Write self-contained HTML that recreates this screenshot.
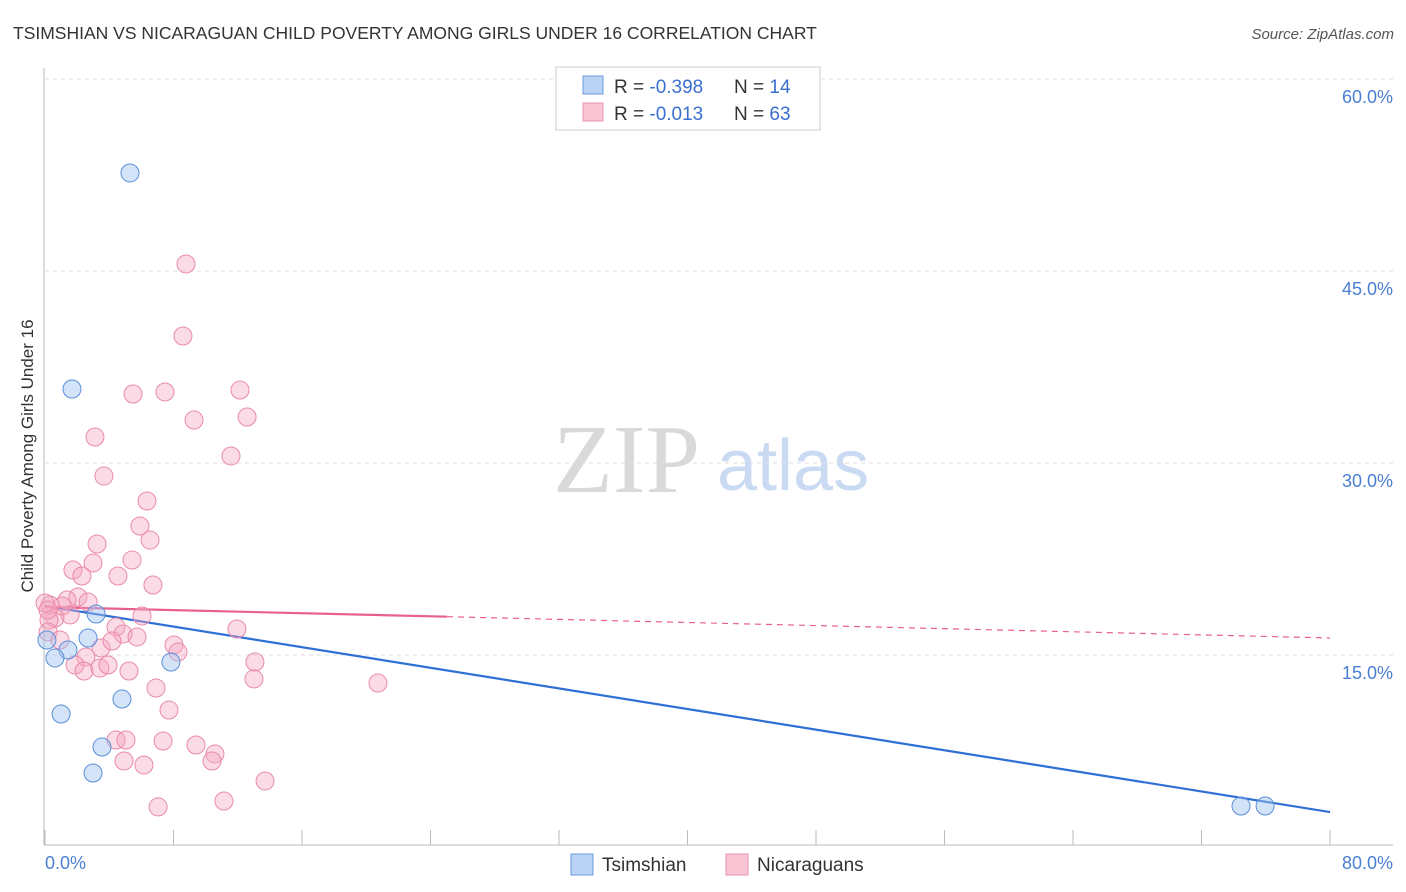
<!DOCTYPE html>
<html><head><meta charset="utf-8"><style>
body{margin:0;background:#fff;}
svg{display:block;font-family:"Liberation Sans",sans-serif;}
</style></head><body>
<svg id="chart" width="1406" height="892">
<text x="13" y="39" font-size="17.5" fill="#333">TSIMSHIAN VS NICARAGUAN CHILD POVERTY AMONG GIRLS UNDER 16 CORRELATION CHART</text>
<text x="1394" y="39" font-size="15" fill="#555" font-style="italic" text-anchor="end">Source: ZipAtlas.com</text>
<g>
<text x="553" y="492" font-size="98" font-family="Liberation Serif,serif" fill="#d9d9d9">ZIP</text>
<text x="717" y="490" font-size="72" fill="#c9daf2">atlas</text>
</g>
<g id="grid"></g>
<line x1="44" y1="68" x2="44" y2="845" stroke="#bbb"/>
<line x1="44" y1="845" x2="1393" y2="845" stroke="#bbb"/>
<text transform="translate(33,456) rotate(-90)" font-size="17" fill="#333" text-anchor="middle">Child Poverty Among Girls Under 16</text>
<text x="45" y="869" font-size="18" fill="#4a7fd4">0.0%</text>
<text x="1393" y="869" font-size="18" fill="#4a7fd4" text-anchor="end">80.0%</text>
<g id="lines"></g>
<g id="points"></g>
<g>
<rect x="556" y="67" width="264" height="63" fill="#fff" stroke="#ccc"/>
<rect x="583" y="76" width="20" height="18" fill="#b8d3f4" stroke="#6a9ae0"/>
<rect x="583" y="103" width="20" height="18" fill="#f9c4d4" stroke="#ea93b0"/>
<text x="614" y="93" font-size="19" fill="#333">R = <tspan fill="#3a6fd0">-0.398</tspan><tspan x="734">N = </tspan><tspan fill="#3a6fd0">14</tspan></text>
<text x="614" y="120" font-size="19" fill="#333">R = <tspan fill="#3a6fd0">-0.013</tspan><tspan x="734">N = </tspan><tspan fill="#3a6fd0">63</tspan></text>
</g>
<g>
<rect x="571" y="854" width="22" height="21" fill="#b8d3f4" stroke="#6a9ae0"/>
<text x="602" y="871" font-size="19" fill="#333">Tsimshian</text>
<rect x="726" y="854" width="22" height="21" fill="#f9c4d4" stroke="#ea93b0"/>
<text x="757" y="871" font-size="19" fill="#333">Nicaraguans</text>
</g>
</svg>
<script>
const yTicks=[15,30,45,60];
const yTickLabels=["15.0%","30.0%","45.0%","60.0%"];
const xTickVals=[0,8,16,24,32,40,48,56,64,72,80];
const tsimX=[5.29,1.68,3.18,2.68,0.12,1.43,0.62,7.84,4.79,1.00,3.55,2.99,74.46,75.96];
const tsimY=[52.66,35.78,18.20,16.33,16.17,15.39,14.77,14.45,11.56,10.39,7.81,5.78,3.20,3.20];
const nicX=[8.78,8.59,5.48,7.47,12.14,12.58,9.28,3.11,11.58,3.67,6.35,5.91,6.54,3.24,5.42,2.99,1.74,2.30,4.54,6.72,2.05,1.37,2.68,1.06,0.31,1.56,0.62,0.25,6.04,0.19,0.93,11.95,4.42,4.86,5.73,8.03,8.28,3.49,4.17,2.55,1.87,2.43,3.42,3.92,5.23,13.07,13.01,20.73,6.91,7.72,4.42,5.04,7.35,9.40,10.58,10.40,4.92,6.16,13.70,7.04,11.14,0,0.19];
const nicY=[45.55,39.92,35.39,35.55,35.70,33.59,33.36,32.03,30.55,28.98,27.03,25.08,23.98,23.67,22.42,22.19,21.64,21.17,21.17,20.47,19.53,19.30,19.14,18.83,18.91,18.13,17.89,17.73,18.05,16.80,16.17,17.03,17.19,16.64,16.41,15.78,15.23,15.55,16.09,14.84,14.22,13.75,13.98,14.22,13.75,14.45,13.13,12.81,12.42,10.70,8.36,8.36,8.28,7.97,7.27,6.72,6.72,6.41,5.16,3.13,3.59,19.06,18.52];
const tsimTrend=[18.83,2.73];
const nicTrend=[18.75,16.33];
const nicSolidEnd=25.03;

const NS="http://www.w3.org/2000/svg";
const X=v=>45+v/80*1285;
const Y=v=>847-v/15*192;
function mk(tag,attrs,parent){const e=document.createElementNS(NS,tag);for(const k in attrs)e.setAttribute(k,attrs[k]);document.getElementById(parent).appendChild(e);return e;}
yTicks.forEach((t,i)=>{
  const l=mk('line',{x1:45,x2:1393,y1:Y(t),y2:Y(t),stroke:'#ddd','stroke-dasharray':'4,4'},'grid');
  
  
  const tx=mk('text',{x:1393,y:Y(t)+24,'font-size':18,fill:'#4a7fd4','text-anchor':'end'},'grid');
  tx.textContent=yTickLabels[i];
  
  
});
xTickVals.forEach(t=>{
  const l=mk('line',{x1:X(t),x2:X(t),y1:830,y2:845,stroke:'#bbb'},'grid');
  
  
});
const bl=mk('line',{x1:X(0),y1:Y(tsimTrend[0]),x2:X(80),y2:Y(tsimTrend[1]),stroke:'#2f6fd6','stroke-width':2.2},'lines');


const slope=(nicTrend[1]-nicTrend[0])/80;
const ps=mk('line',{x1:X(0),y1:Y(nicTrend[0]),x2:X(nicSolidEnd),y2:Y(nicTrend[0]+slope*nicSolidEnd),stroke:'#e8608f','stroke-width':2.2},'lines');


const pd=mk('line',{x1:X(nicSolidEnd),y1:Y(nicTrend[0]+slope*nicSolidEnd),x2:X(80),y2:Y(nicTrend[1]),stroke:'#e8608f','stroke-width':1.2,'stroke-dasharray':'6,5'},'lines');


nicX.forEach((x,i)=>{
  const c=mk('circle',{cx:X(x),cy:Y(nicY[i]),r:9,fill:'rgba(245,165,192,0.4)',stroke:'#e98aab','stroke-width':1},'points');
  
  
});
tsimX.forEach((x,i)=>{
  const c=mk('circle',{cx:X(x),cy:Y(tsimY[i]),r:9,fill:'rgba(160,196,240,0.45)',stroke:'#5a8fd8','stroke-width':1},'points');
  
  
});
</script>
</body></html>
